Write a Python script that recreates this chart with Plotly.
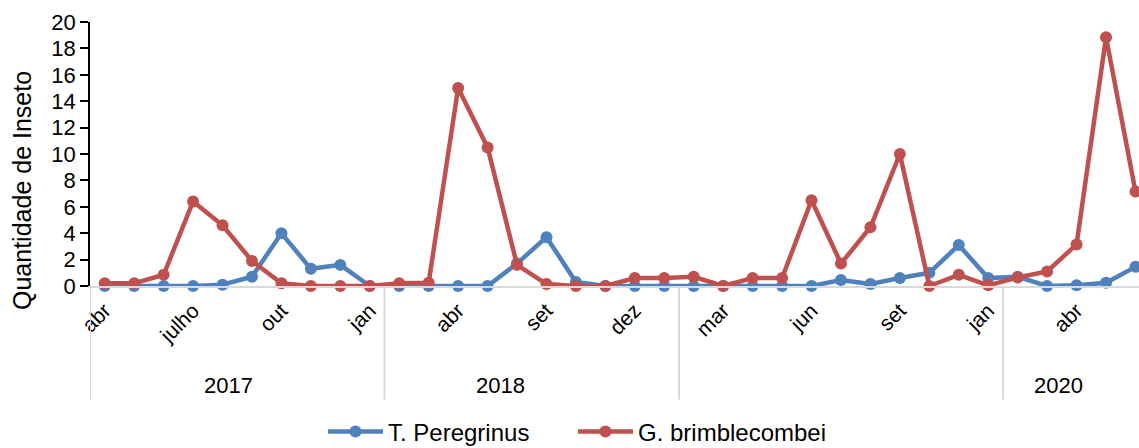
import plotly.graph_objects as go

# ---- data ----
months = ["abr", "mai", "jun", "julho", "ago", "set", "out", "nov", "dez", "jan",
          "fev", "mar", "abr", "mai", "jul", "set", "out", "nov", "dez", "jan",
          "fev", "mar", "abr", "mai", "jun", "jul", "ago", "set", "out", "nov", "jan",
          "fev", "mar", "abr", "mai", "jun"]
year_names = ["2017", "2018", "", "2020"]
year_sizes = [10, 10, 11, 5]

t_peregrinus = [0, 0, 0, 0, 0.1, 0.7, 4.0, 1.3, 1.6, 0,
                0, 0, 0, 0, 1.7, 3.7, 0.3, 0, 0, 0,
                0, 0, 0, 0, 0, 0.45, 0.15, 0.6, 1.0, 3.1, 0.6,
                0.7, 0, 0.05, 0.25, 1.45]
g_brimblecombei = [0.2, 0.2, 0.85, 6.4, 4.6, 1.9, 0.2, 0, 0, 0,
                   0.2, 0.25, 15.0, 10.5, 1.6, 0.15, 0, 0, 0.6, 0.6,
                   0.7, 0, 0.6, 0.6, 6.5, 1.7, 4.45, 10.0, 0, 0.85, 0.05,
                   0.65, 1.1, 3.15, 18.85, 7.15]

idx = list(range(len(months)))
BLUE = "#4F81BD"
RED = "#C0504D"
FONT = "Arial, Liberation Sans, sans-serif"

fig = go.Figure()
fig.add_trace(go.Scatter(x=idx, y=t_peregrinus, mode="lines+markers", name="T. Peregrinus",
                         line=dict(color=BLUE, width=4.5), marker=dict(size=12, color=BLUE),
                         cliponaxis=False, legend="legend"))
fig.add_trace(go.Scatter(x=idx, y=g_brimblecombei, mode="lines+markers", name="G. brimblecombei",
                         line=dict(color=RED, width=4.5), marker=dict(size=12, color=RED),
                         cliponaxis=False, legend="legend2"))

# group dividers
shapes = []
bounds = [-0.5]
for s in year_sizes:
    bounds.append(bounds[-1] + s)
for b in bounds[:-1]:
    shapes.append(dict(type="line", xref="x", yref="paper", x0=b, x1=b, y0=0, y1=-0.43,
                       line=dict(color="#d9d9d9", width=2)))

# year labels
year_label_x = [4.2, 13.45, None, 32.4]
annotations = []
for name, xpos in zip(year_names, year_label_x):
    if name:
        annotations.append(dict(x=xpos, y=-0.375, xref="x", yref="paper", text=name,
                                showarrow=False, font=dict(size=22, color="black", family=FONT),
                                xanchor="center", yanchor="middle"))
annotations.append(dict(x=-0.0648, y=0.36, xref="paper", yref="paper", text="Quantidade de Inseto",
                        textangle=-90, showarrow=False,
                        font=dict(size=25, color="black", family=FONT),
                        xanchor="center", yanchor="middle"))

legend_common = dict(orientation="h", xanchor="left", y=-0.553, yanchor="middle",
                     font=dict(size=24, color="black", family=FONT), itemwidth=55)

fig.update_layout(
    width=1139, height=448,
    margin=dict(l=90, r=0, t=22, b=162, autoexpand=False),
    paper_bgcolor="white", plot_bgcolor="white",
    font=dict(family=FONT, color="black"),
    shapes=shapes, annotations=annotations,
    legend=dict(x=0.2221, **legend_common),
    legend2=dict(x=0.4604, **legend_common),
    showlegend=True,
)
fig.update_xaxes(range=[-0.5, 35.12], tickmode="array", tickvals=idx[::3], ticktext=months[::3],
                 tickangle=-45, tickfont=dict(size=21, color="black", family=FONT),
                 showline=True, linecolor="#d9d9d9", linewidth=2, showgrid=False,
                 zeroline=False, ticks="", ticklabelstandoff=2, automargin=False)
fig.update_yaxes(range=[0, 20], dtick=2, showline=True, linecolor="black", linewidth=1.5,
                 ticks="outside", ticklen=8, tickcolor="black", tickwidth=1.5,
                 tickfont=dict(size=22, color="black", family=FONT),
                 showgrid=False, zeroline=False, automargin=False)

fig.write_html("out.html", config={"displayModeBar": False},
               post_script="document.body.style.margin='0';document.body.style.overflow='hidden';")
